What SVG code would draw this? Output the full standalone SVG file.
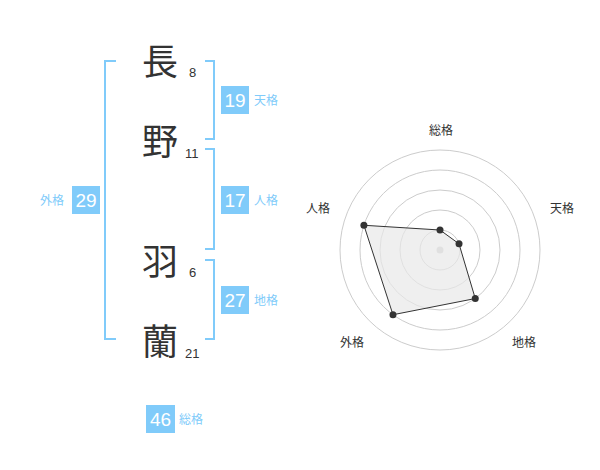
<svg xmlns="http://www.w3.org/2000/svg" width="600" height="470" viewBox="0 0 600 470">
<style>
.k{font-family:"Noto Sans CJK JP","Noto Sans CJK SC",sans-serif;font-size:36px;fill:#333;text-anchor:middle}
.n{font-family:"Liberation Sans",Arial,sans-serif;font-size:13px;fill:#333}
.b{fill:#80cbfa}
.bn{font-family:"Liberation Sans",Arial,sans-serif;font-size:19px;fill:#fff;text-anchor:middle}
.bl{font-family:"Noto Sans CJK JP","Noto Sans CJK SC",sans-serif;font-size:12px;fill:#80cbfa}
.br{fill:none;stroke:#80cbfa;stroke-width:2}
.ring{fill:none;stroke:#ccc;stroke-width:1}
.rl{font-family:"Noto Sans CJK JP","Noto Sans CJK SC",sans-serif;font-size:12px;fill:#333;text-anchor:middle}
.pt{fill:#333}
</style>
<rect width="600" height="470" fill="#fff"/>
<g id="connectors">
<path class="br" d="M116,61 H105 V339 H116"/>
<path class="br" d="M205,61 H214 V139 H205"/>
<path class="br" d="M205,149 H214 V249 H205"/>
<path class="br" d="M205,260 H214 V339 H205"/>
</g>
<g id="char1"><text class="k" x="160" y="75">長</text><text class="n" x="189" y="77">8</text></g>
<g id="char2"><text class="k" x="160" y="155">野</text><text class="n" x="185" y="158">11</text></g>
<g id="char3"><text class="k" x="160" y="275">羽</text><text class="n" x="189" y="277">6</text></g>
<g id="char4"><text class="k" x="160" y="355">蘭</text><text class="n" x="185" y="358">21</text></g>
<g id="tenkaku"><rect class="b" x="221" y="86" width="28" height="28"/><text class="bn" x="235" y="107">19</text><text class="bl" x="254" y="105">天格</text></g>
<g id="jinkaku"><rect class="b" x="221" y="186" width="28" height="28"/><text class="bn" x="235" y="207">17</text><text class="bl" x="254" y="205">人格</text></g>
<g id="chikaku"><rect class="b" x="221" y="286" width="28" height="28"/><text class="bn" x="235" y="307">27</text><text class="bl" x="254" y="305">地格</text></g>
<g id="gaikaku"><rect class="b" x="72" y="186" width="28" height="28"/><text class="bn" x="86" y="207">29</text><text class="bl" x="40" y="205">外格</text></g>
<g id="soukaku"><rect class="b" x="146" y="405" width="29" height="28"/><text class="bn" x="160.5" y="426">46</text><text class="bl" x="179" y="424">総格</text></g>
<g id="radar">
<circle class="ring" cx="440" cy="250" r="100"/>
<circle class="ring" cx="440" cy="250" r="80"/>
<circle class="ring" cx="440" cy="250" r="60"/>
<circle class="ring" cx="440" cy="250" r="40"/>
<circle class="ring" cx="440" cy="250" r="20"/>
<circle cx="440" cy="250" r="3.5" fill="#ccc"/>
<polygon points="440,230 459.02,243.82 475.27,298.54 392.98,314.72 363.91,225.28" fill="#e8e8e8" fill-opacity="0.7" stroke="#333" stroke-width="1"/>
<circle class="pt" cx="440" cy="230" r="3.5"/>
<circle class="pt" cx="459.02" cy="243.82" r="3.5"/>
<circle class="pt" cx="475.27" cy="298.54" r="3.5"/>
<circle class="pt" cx="392.98" cy="314.72" r="3.5"/>
<circle class="pt" cx="363.91" cy="225.28" r="3.5"/>
<text class="rl" x="441" y="135">総格</text>
<text class="rl" x="562" y="213">天格</text>
<text class="rl" x="524" y="347">地格</text>
<text class="rl" x="352" y="347">外格</text>
<text class="rl" x="318" y="213">人格</text>
</g>
</svg>
